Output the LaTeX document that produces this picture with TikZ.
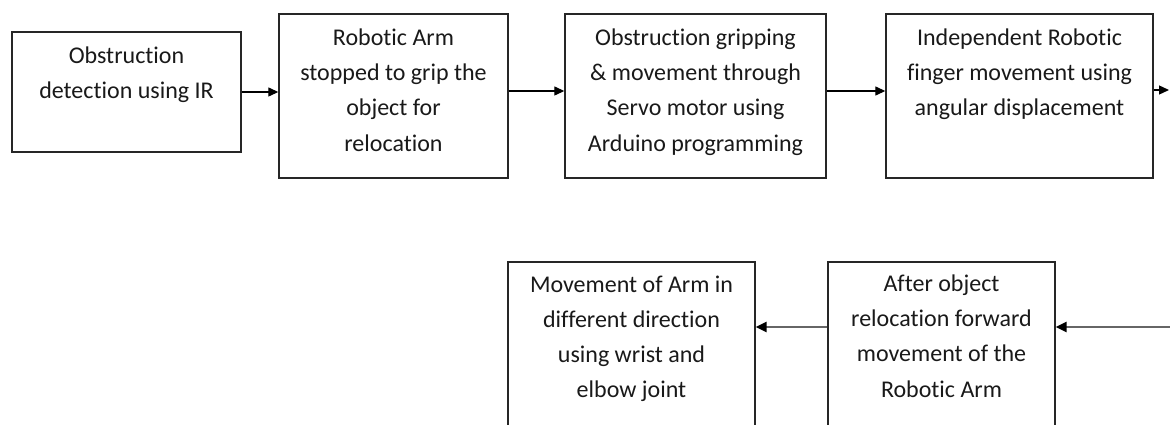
\documentclass[tikz,border=0pt]{standalone}
\usepackage{fontspec}
\setmainfont[Ligatures=NoCommon]{Carlito}
\usetikzlibrary{arrows.meta}
\begin{document}
\begin{tikzpicture}[x=1pt,y=-1pt,
  box/.style={draw=black!85,line width=1.4pt,rectangle,inner sep=0pt},
  txt/.style={anchor=north,align=center,inner sep=0pt,font=\fontsize{24}{35.3}\selectfont,text=black!90},
  arr/.style={draw=black,line width=1.3pt,-{Triangle[length=10pt,width=9pt]}},
  arrb/.style={draw=black!60,line width=2.6pt,-{Triangle[length=11pt,width=10pt,fill=black,color=black]}}]
\useasboundingbox (0,0) rectangle (1170,425);
\clip (0,0) rectangle (1170,425);
% top row
\node[box,minimum width=229pt,minimum height=120pt] (b1) at (126.5,92) {};
\node[box,minimum width=229pt,minimum height=164pt] (b2) at (393.5,96) {};
\node[box,minimum width=261pt,minimum height=164pt] (b3) at (695.5,96) {};
\node[box,minimum width=267pt,minimum height=164pt] (b4) at (1019.5,96) {};
% bottom row
\node[box,minimum width=227pt,minimum height=178pt] (b6) at (941.5,351) {};
\node[box,minimum width=247pt,minimum height=178pt] (b5) at (631.5,351) {};
% texts
\node[txt] (t1) at ([yshift=-15pt]b1.north) {Obstruction\\detection using IR};
\node[txt] (t2) at ([yshift=-15pt]b2.north) {Robotic Arm\\stopped to grip the\\object for\\relocation};
\node[txt] (t3) at ([yshift=-15pt]b3.north) {Obstruction gripping\\\& movement through\\Servo motor using\\Arduino programming};
\node[txt] (t4) at ([yshift=-15pt]b4.north) {Independent Robotic\\finger movement using\\angular displacement};
\node[txt] (t6) at ([yshift=-13pt]b6.north) {After object\\relocation forward\\movement of the\\Robotic Arm};
\node[txt] (t5) at ([yshift=-14pt]b5.north) {Movement of Arm in\\different direction\\using wrist and\\elbow joint};
% connectors
\coordinate (out) at (1169,90);
\coordinate (in) at (1175,327);
\draw[arr] (b1.east) -- (b1.east -| b2.west);
\draw[arr] ([yshift=5pt]b2.east) -- ([yshift=5pt]b3.west);
\draw[arr] ([yshift=5pt]b3.east) -- ([yshift=5pt]b4.west);
\draw[arr] (b4.east |- out) -- (out);
\draw[arrb] (in) -- (in -| b6.east);
\draw[arrb] ([yshift=24pt]b6.west) -- ([yshift=24pt]b5.east);
\end{tikzpicture}
\end{document}
